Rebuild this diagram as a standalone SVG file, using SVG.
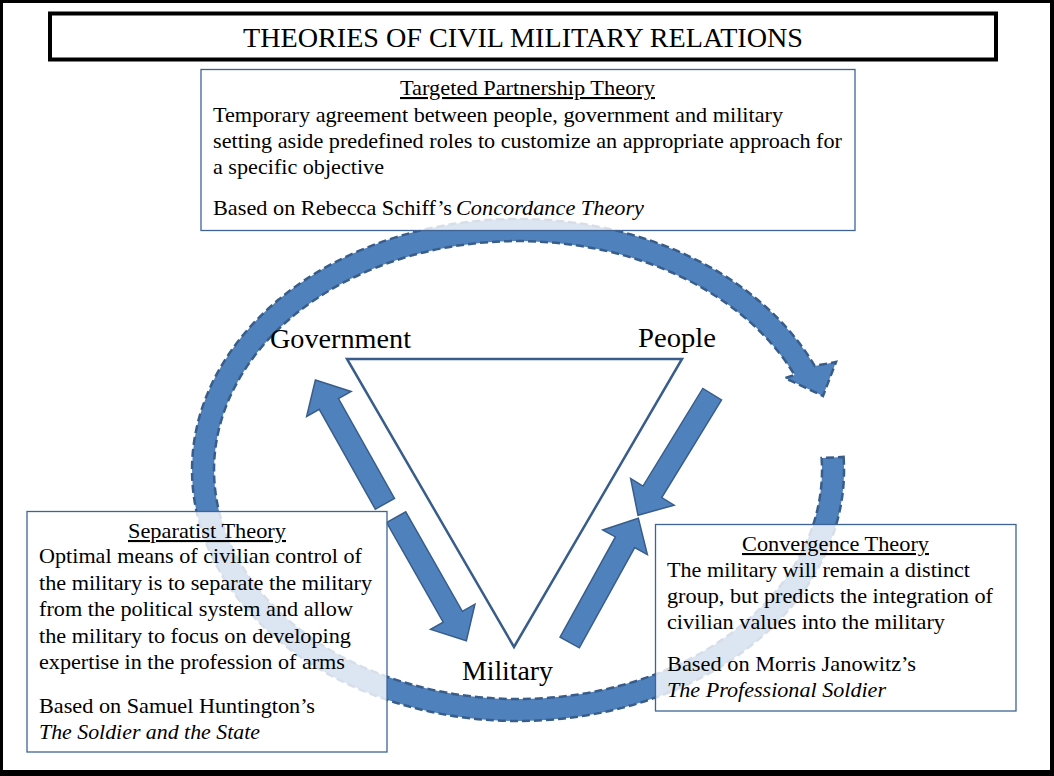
<svg xmlns="http://www.w3.org/2000/svg" width="1054" height="776" viewBox="0 0 1054 776">
<style>
text{font-family:"Liberation Serif","Times New Roman",serif;fill:#000}
.body{font-size:21px}
.it{font-style:italic}
.hd{font-size:21px;text-decoration:underline}
.lbl{font-size:27px}
.box{fill:#fff;fill-opacity:0.8;stroke:#3F6494;stroke-width:1.3}
.blk{fill:#4F81BD;stroke:#385D8A;stroke-width:1.5}
</style>
<defs>
<path id="blkarrow" d="M0,-11 H114.5 V-25.5 L142,0 L114.5,25.5 V11 H0 Z"/>
</defs>
<rect x="0" y="0" width="1054" height="776" fill="#000"/>
<rect x="3" y="3" width="1047" height="767" fill="#fff"/>
<g id="title">
<rect x="50" y="13.5" width="946" height="46" fill="#fff" stroke="#000" stroke-width="4"/>
<text font-family="Liberation Serif" x="243" y="46.5" font-size="28" textLength="560" lengthAdjust="spacingAndGlyphs">THEORIES OF CIVIL MILITARY RELATIONS</text>
</g>
<g id="connectors">
<path id="cycle" d="M843.6,456.9 A326,251 0 1 1 814.7,365.9 L836,362 L823,396 L785,378 L794.6,375 A304,229 0 1 0 821.6,458 Z" fill="#4F81BD" stroke="#385D8A" stroke-width="2.5" stroke-dasharray="8 4"/>
<use href="#blkarrow" class="blk" transform="translate(384.9,503.8) rotate(-119.3)"/>
<use href="#blkarrow" class="blk" transform="translate(396.2,517.2) rotate(60.4)"/>
<use href="#blkarrow" class="blk" transform="translate(712.2,394.2) rotate(121.5)"/>
<use href="#blkarrow" class="blk" transform="translate(569.7,642.5) rotate(-61.1)"/>
</g>
<g id="triangle">
<polygon points="347,359 682,359 514,647" fill="#fff" stroke="#385D8A" stroke-width="2.5"/>
</g>
<g id="government" font-family="Liberation Serif"><text class="lbl" x="270" y="348" textLength="141" lengthAdjust="spacingAndGlyphs">Government</text></g>
<g id="people" font-family="Liberation Serif"><text class="lbl" x="638" y="347" textLength="78" lengthAdjust="spacingAndGlyphs">People</text></g>
<g id="military" font-family="Liberation Serif"><text class="lbl" x="462" y="680" textLength="91" lengthAdjust="spacingAndGlyphs">Military</text></g>
<g id="targeted" font-family="Liberation Serif">
<rect class="box" x="201" y="69.5" width="654" height="161"/>
<text class="hd" x="400" y="95" textLength="255" lengthAdjust="spacingAndGlyphs">Targeted Partnership Theory</text>
<text class="body" x="213" y="122" textLength="570" lengthAdjust="spacingAndGlyphs">Temporary agreement between people, government and military</text>
<text class="body" x="213" y="148" textLength="629" lengthAdjust="spacingAndGlyphs">setting aside predefined roles to customize an appropriate approach for</text>
<text class="body" x="213" y="174" textLength="171" lengthAdjust="spacingAndGlyphs">a specific objective</text>
<text class="body" x="213" y="215" textLength="239" lengthAdjust="spacingAndGlyphs">Based on Rebecca Schiff’s</text>
<text class="body it" x="456" y="215" textLength="188" lengthAdjust="spacingAndGlyphs">Concordance Theory</text>
</g>
<g id="separatist" font-family="Liberation Serif">
<rect class="box" x="27" y="511.5" width="360" height="240.5"/>
<text class="hd" x="128" y="538" textLength="158" lengthAdjust="spacingAndGlyphs">Separatist Theory</text>
<text class="body" x="39" y="563" textLength="323" lengthAdjust="spacingAndGlyphs">Optimal means of civilian control of</text>
<text class="body" x="39" y="589.5" textLength="333" lengthAdjust="spacingAndGlyphs">the military is to separate the military</text>
<text class="body" x="39" y="616" textLength="314" lengthAdjust="spacingAndGlyphs">from the political system and allow</text>
<text class="body" x="39" y="642.5" textLength="312" lengthAdjust="spacingAndGlyphs">the military to focus on developing</text>
<text class="body" x="39" y="669" textLength="306" lengthAdjust="spacingAndGlyphs">expertise in the profession of arms</text>
<text class="body" x="39" y="712.5" textLength="276" lengthAdjust="spacingAndGlyphs">Based on Samuel Huntington’s</text>
<text class="body it" x="39" y="738.5" textLength="221" lengthAdjust="spacingAndGlyphs">The Soldier and the State</text>
</g>
<g id="convergence" font-family="Liberation Serif">
<rect class="box" x="655.5" y="524.5" width="360.5" height="186.5"/>
<text class="hd" x="742" y="551" textLength="187" lengthAdjust="spacingAndGlyphs">Convergence Theory</text>
<text class="body" x="667" y="577" textLength="303" lengthAdjust="spacingAndGlyphs">The military will remain a distinct</text>
<text class="body" x="667" y="603" textLength="326" lengthAdjust="spacingAndGlyphs">group, but predicts the integration of</text>
<text class="body" x="667" y="629" textLength="278" lengthAdjust="spacingAndGlyphs">civilian values into the military</text>
<text class="body" x="667" y="671" textLength="249" lengthAdjust="spacingAndGlyphs">Based on Morris Janowitz’s</text>
<text class="body it" x="667" y="697" textLength="219" lengthAdjust="spacingAndGlyphs">The Professional Soldier</text>
</g>
</svg>
